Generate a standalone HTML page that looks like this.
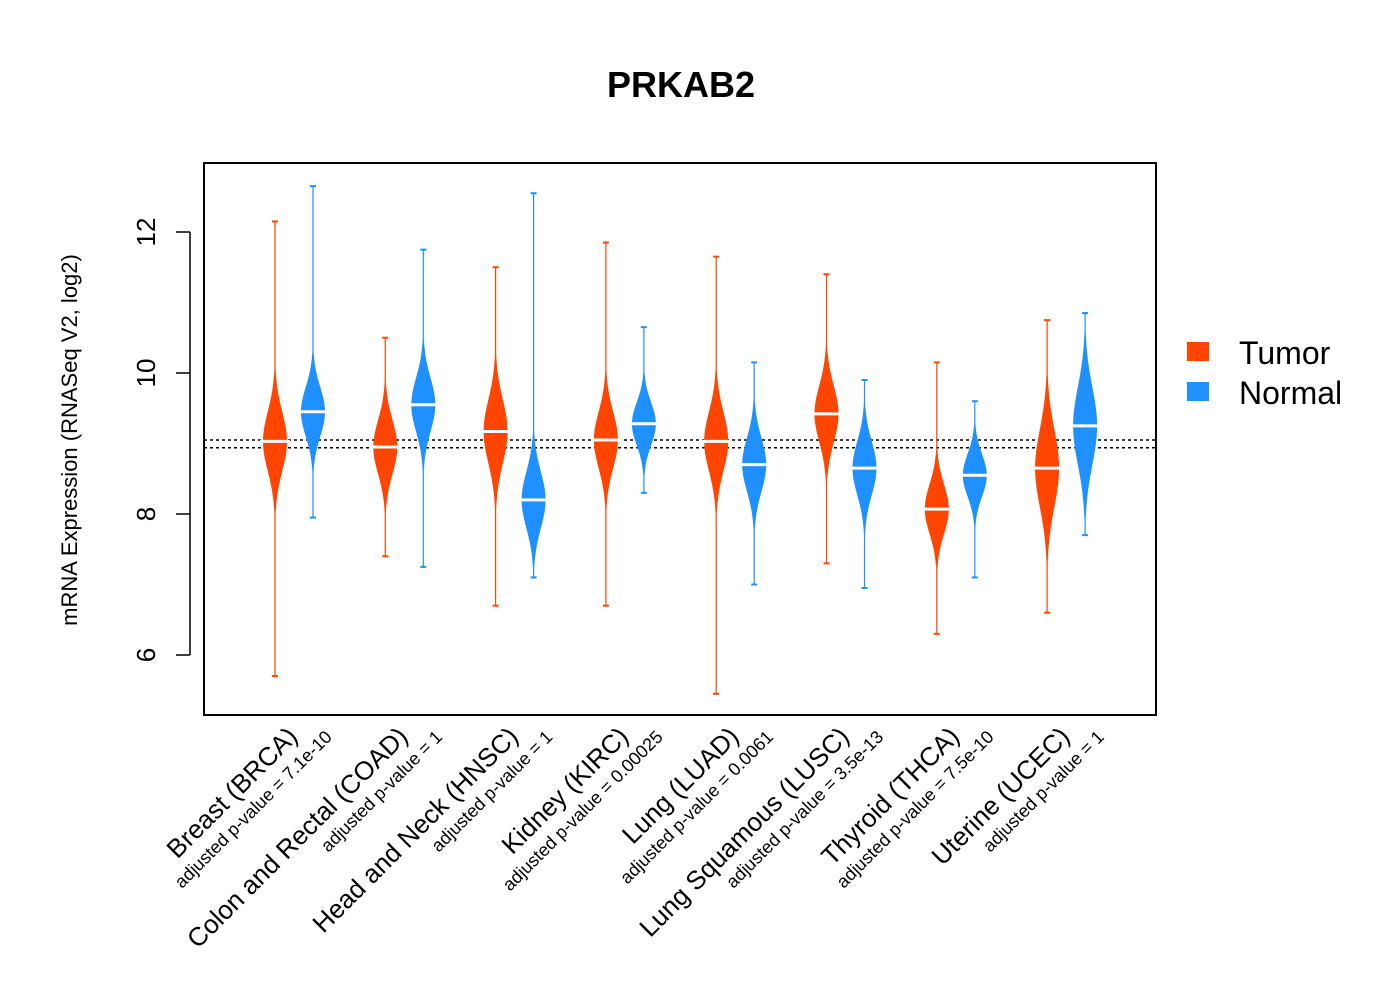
<!DOCTYPE html>
<html><head><meta charset="utf-8"><style>
body{margin:0;background:#fff}
svg text{font-family:"Liberation Sans",sans-serif}
</style></head><body>
<svg id="c" width="1400" height="1000" xmlns="http://www.w3.org/2000/svg">
<text x="681" y="97" text-anchor="middle" font-size="36" font-weight="bold">PRKAB2</text>
<rect x="204" y="163" width="952" height="552" fill="none" stroke="#000" stroke-width="2"/>
<text transform="translate(77,440) rotate(-90)" text-anchor="middle" font-size="22">mRNA Expression (RNASeq V2, log2)</text>
<g id="axis"></g>
<g id="marks"></g>
<g id="xl"></g>
<g>
<rect x="1187" y="342" width="22" height="19" fill="#FF4500"/>
<text x="1239" y="364" font-size="32">Tumor</text>
<rect x="1187" y="382" width="22" height="19" fill="#1E90FF"/>
<text x="1239" y="404" font-size="32">Normal</text>
</g>
</svg>
<script>
const categories=["Breast (BRCA)","Colon and Rectal (COAD)","Head and Neck (HNSC)","Kidney (KIRC)","Lung (LUAD)","Lung Squamous (LUSC)","Thyroid (THCA)","Uterine (UCEC)"];
const pvalues=["7.1e-10","1","1","0.00025","0.0061","3.5e-13","7.5e-10","1"];
const tumorMedian=[9.03,8.95,9.17,9.05,9.03,9.42,8.07,8.65];
const tumorSd=[0.42,0.38,0.45,0.4,0.42,0.4,0.35,0.55];
const tumorMin=[5.7,7.4,6.7,6.7,5.45,7.3,6.3,6.6];
const tumorMax=[12.15,10.5,11.5,11.85,11.65,11.4,10.15,10.75];
const normalMedian=[9.45,9.55,8.2,9.28,8.7,8.65,8.55,9.25];
const normalSd=[0.35,0.38,0.4,0.3,0.38,0.38,0.3,0.55];
const normalMin=[7.95,7.25,7.1,8.3,7.0,6.95,7.1,7.7];
const normalMax=[12.65,11.75,12.55,10.65,10.15,9.9,9.6,10.85];
const refLines=[9.05,8.94];
const yTicks=[6,8,10,12];

const NS="http://www.w3.org/2000/svg";
const y=v=>373-(v-10)*70.5;
const xT=i=>275+i*110.3, xN=i=>313+i*110.3;
function mk(t,a,p){const e=document.createElementNS(NS,t);for(const k in a)e.setAttribute(k,a[k]);(p||document.getElementById('marks')).appendChild(e);return e;}
const ax=document.getElementById('axis');
mk('line',{x1:190,x2:190,y1:y(12),y2:y(6),stroke:'#000','stroke-width':1.5},ax);
yTicks.forEach(t=>{
 const l=mk('line',{x1:176,x2:190,y1:y(t),y2:y(t),stroke:'#000','stroke-width':1.5},ax);
 
 
 const tx=mk('text',{transform:`translate(155,${y(t)}) rotate(-90)`,'text-anchor':'middle','font-size':26},ax);
 tx.textContent=t;
 
 
});
refLines.forEach(v=>{
 const l=mk('line',{x1:204,x2:1156,y1:y(v),y2:y(v),stroke:'#000','stroke-width':1.5,'stroke-dasharray':'3,3'});
 
 
});
function violin(cx,med,sd,mn,mx,col,name){
 const W=12,pts=[],pts2=[];
 for(let v=mn;v<=mx+1e-9;v+=0.02){
  let w=W*Math.exp(-0.5*((v-med)/sd)**2);
  w=Math.max(w,0.6);
  pts.push([cx+w,y(v)]);pts2.push([cx-w,y(v)]);
 }
 const all=pts.concat(pts2.reverse()).map(p=>p.join(',')).join(' ');
 const p=mk('polygon',{points:all,fill:col});
 
 
 const m=mk('line',{x1:cx-15,x2:cx+15,y1:y(med),y2:y(med),stroke:'#fff','stroke-width':3});
 
 
 [mn,mx].forEach(v=>{
  const t=mk('line',{x1:cx-3,x2:cx+3,y1:y(v),y2:y(v),stroke:col,'stroke-width':2});
  
  
 });
}
const xl=document.getElementById('xl');
categories.forEach((c,i)=>{
 violin(xT(i),tumorMedian[i],tumorSd[i],tumorMin[i],tumorMax[i],'#FF4500','violin-tumor');
 violin(xN(i),normalMedian[i],normalSd[i],normalMin[i],normalMax[i],'#1E90FF','violin-normal');
 const t=mk('text',{transform:`translate(${xT(i)+24},${738}) rotate(-45)`,'text-anchor':'end','font-size':26},xl);
 t.textContent=c;
 
 
 const p=mk('text',{transform:`translate(${xN(i)+20},${738}) rotate(-45)`,'text-anchor':'end','font-size':18},xl);
 p.textContent='adjusted p-value = '+pvalues[i];
 
 
});
</script>
</body></html>
